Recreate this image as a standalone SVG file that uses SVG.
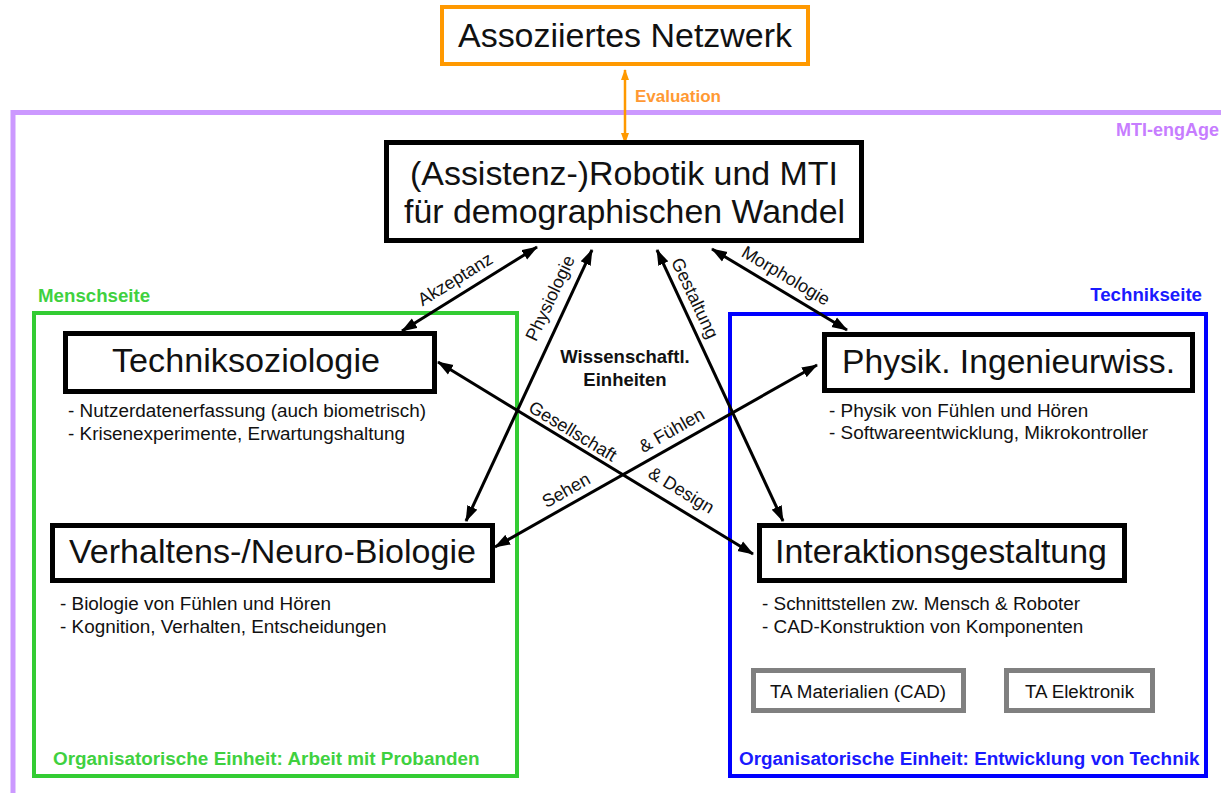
<svg xmlns="http://www.w3.org/2000/svg" width="1221" height="793" viewBox="0 0 1221 793">
<style>
  text { font-family: "Liberation Sans", Arial, sans-serif; fill: #111; }
  .box { fill: #fff; stroke: #000; stroke-width: 5; }
  .ta { fill: #fff; stroke: #808080; stroke-width: 5; }
  .title { font-size: 33px; text-anchor: middle; }
  .bullet { font-size: 18.9px; }
  .lbl { font-size: 18px; text-anchor: middle; }
  .bold { font-weight: bold; }
  .conn { stroke: #000; stroke-width: 3; fill: none; marker-start: url(#ah); marker-end: url(#ah); }
</style>
<defs>
  <marker id="ah" viewBox="0 0 16 12" refX="15" refY="6" markerWidth="16" markerHeight="12" markerUnits="userSpaceOnUse" orient="auto-start-reverse">
    <path d="M0,0.5 L16,6 L0,11.5 z" fill="#000"/>
  </marker>
  <marker id="aho" viewBox="0 0 11 9" refX="10" refY="4.5" markerWidth="11" markerHeight="9" markerUnits="userSpaceOnUse" orient="auto-start-reverse">
    <path d="M0,0.5 L11,4.5 L0,8.5 z" fill="#ff9900"/>
  </marker>
</defs>
<rect width="1221" height="793" fill="#fff"/>

<g id="frame-mti">
  <path d="M13,793 V112.5 H1221" fill="none" stroke="#cc99ff" stroke-width="5"/>
  <text x="1219" y="136" class="bold" font-size="18" text-anchor="end" style="fill:#c77dff">MTI-engAge</text>
</g>

<g id="frame-mensch">
  <rect x="34" y="313" width="483" height="463" fill="none" stroke="#33cc33" stroke-width="4"/>
  <text x="38" y="302" class="bold" font-size="18.7" style="fill:#3fd13f">Menschseite</text>
  <text x="53" y="765" class="bold" font-size="18.9" style="fill:#3fd13f">Organisatorische Einheit: Arbeit mit Probanden</text>
</g>

<g id="frame-technik">
  <rect x="730" y="314" width="476" height="462" fill="none" stroke="#0000ff" stroke-width="4"/>
  <text x="1202" y="301" class="bold" font-size="18.7" text-anchor="end" style="fill:#1a1aff">Technikseite</text>
  <text x="739" y="765" class="bold" font-size="18.9" style="fill:#1a1aff">Organisatorische Einheit: Entwicklung von Technik</text>
</g>

<g id="connectors">
  <line x1="625" y1="70" x2="625" y2="143" stroke="#ff9900" stroke-width="2.5" marker-start="url(#aho)" marker-end="url(#aho)"/>
  <line class="conn" x1="537" y1="247" x2="402" y2="331"/>
  <line class="conn" x1="592" y1="250" x2="466" y2="521"/>
  <line class="conn" x1="657" y1="250" x2="783" y2="521"/>
  <line class="conn" x1="712" y1="249" x2="847" y2="330"/>
  <line class="conn" x1="438" y1="362" x2="753" y2="554"/>
  <line class="conn" x1="817" y1="365" x2="495" y2="547"/>
  <text x="635" y="102" class="bold" font-size="17" style="fill:#ff9933">Evaluation</text>
  <text class="lbl" x="455" y="279" dy="0.35em" transform="rotate(-31.6 455 279)">Akzeptanz</text>
  <text class="lbl" x="550" y="298" dy="0.35em" transform="rotate(-64.8 550 298)">Physiologie</text>
  <text class="lbl" x="695" y="298" dy="0.35em" transform="rotate(64.6 695 298)">Gestaltung</text>
  <text class="lbl" x="786" y="275.5" dy="0.35em" transform="rotate(30.6 786 275.5)">Morphologie</text>
  <text class="lbl" x="573" y="431" dy="0.35em" transform="rotate(31.2 573 431)">Gesellschaft</text>
  <text class="lbl" x="681.5" y="490" dy="0.35em" transform="rotate(31.2 681.5 490)">&amp; Design</text>
  <text class="lbl" x="566" y="490" dy="0.35em" transform="rotate(-29.5 566 490)">Sehen</text>
  <text class="lbl" x="671.5" y="430" dy="0.35em" transform="rotate(-29.5 671.5 430)">&amp; Fühlen</text>
</g>

<g id="node-netzwerk">
  <rect x="442" y="7" width="366" height="57" fill="#fff" stroke="#ff9900" stroke-width="4"/>
  <text x="625" y="47" class="title" font-size="32" textLength="334" lengthAdjust="spacingAndGlyphs">Assoziiertes Netzwerk</text>
</g>

<g id="node-robotik">
  <rect class="box" x="386.5" y="142.5" width="475" height="98"/>
  <text x="624" y="185" class="title" textLength="428" lengthAdjust="spacingAndGlyphs">(Assistenz-)Robotik und MTI</text>
  <text x="624.5" y="223" class="title" textLength="441" lengthAdjust="spacingAndGlyphs">für demographischen Wandel</text>
</g>

<g id="node-wissenschaftl">
  <text x="625" y="363" class="bold" font-size="18.5" text-anchor="middle">Wissenschaftl.</text>
  <text x="625" y="386" class="bold" font-size="18.5" text-anchor="middle">Einheiten</text>
</g>

<g id="node-techniksoziologie">
  <rect class="box" x="65.5" y="333.5" width="369" height="58"/>
  <text x="246" y="372" class="title" textLength="268" lengthAdjust="spacingAndGlyphs">Techniksoziologie</text>
  <text x="68" y="417" class="bullet">- Nutzerdatenerfassung (auch biometrisch)</text>
  <text x="68" y="440" class="bullet">- Krisenexperimente, Erwartungshaltung</text>
</g>

<g id="node-verhaltensbiologie">
  <rect class="box" x="52.5" y="525.5" width="440" height="55"/>
  <text x="272.5" y="563" class="title" textLength="407" lengthAdjust="spacingAndGlyphs">Verhaltens-/Neuro-Biologie</text>
  <text x="60" y="610" class="bullet">- Biologie von Fühlen und Hören</text>
  <text x="60" y="633" class="bullet">- Kognition, Verhalten, Entscheidungen</text>
</g>

<g id="node-physik">
  <rect class="box" x="824.5" y="334.5" width="368" height="56"/>
  <text x="1008.5" y="373" class="title" textLength="333" lengthAdjust="spacingAndGlyphs">Physik. Ingenieurwiss.</text>
  <text x="829" y="417" class="bullet">- Physik von Fühlen und Hören</text>
  <text x="829" y="439" class="bullet">- Softwareentwicklung, Mikrokontroller</text>
</g>

<g id="node-interaktion">
  <rect class="box" x="759.5" y="525.5" width="365" height="55"/>
  <text x="941" y="563" class="title" textLength="332" lengthAdjust="spacingAndGlyphs">Interaktionsgestaltung</text>
  <text x="762" y="610" class="bullet">- Schnittstellen zw. Mensch &amp; Roboter</text>
  <text x="762" y="633" class="bullet">- CAD-Konstruktion von Komponenten</text>
</g>

<g id="node-ta-materialien">
  <rect class="ta" x="753.5" y="670.5" width="210" height="40"/>
  <text x="858" y="698" font-size="18.8" text-anchor="middle">TA Materialien (CAD)</text>
</g>

<g id="node-ta-elektronik">
  <rect class="ta" x="1006.5" y="670.5" width="146" height="40"/>
  <text x="1079.5" y="698" font-size="18.8" text-anchor="middle">TA Elektronik</text>
</g>
</svg>
